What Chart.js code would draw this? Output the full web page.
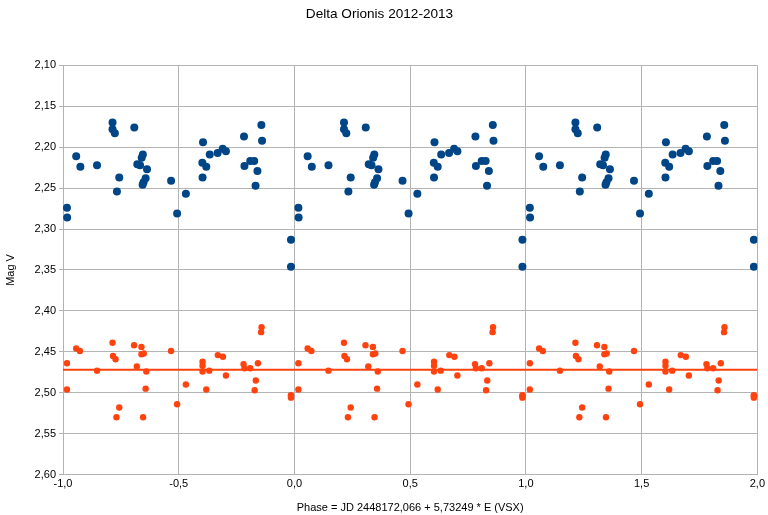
<!DOCTYPE html>
<html>
<head>
<meta charset="utf-8">
<title>Delta Orionis 2012-2013</title>
<script src="https://cdn.jsdelivr.net/npm/chart.js@4.4.1/dist/chart.umd.min.js"></script>
<style>
    body { margin: 0; background: #ffffff; }
    #chartBox { width: 768px; height: 515px; }
</style>
</head>
<body>
<div id="chartBox"><canvas id="myChart" width="768" height="515"></canvas></div>
<script>
var phases = [
    0.017, 0.018, 0.057, 0.075, 0.147, 0.214, 0.214, 0.224, 0.233, 0.243,
    0.308, 0.321, 0.333, 0.340, 0.345, 0.363, 0.357, 0.348, 0.344, 0.467,
    0.493, 0.531, 0.605, 0.602, 0.619, 0.603, 0.634, 0.668, 0.690, 0.704,
    0.782, 0.784, 0.809, 0.826, 0.840, 0.832, 0.857, 0.860, 0.985, 0.985
];

// delta Ori, V magnitude
var magDelta = [
    2.274, 2.286, 2.211, 2.224, 2.222, 2.170, 2.178, 2.183, 2.254, 2.237,
    2.176, 2.221, 2.222, 2.213, 2.209, 2.227, 2.238, 2.243, 2.246, 2.241,
    2.281, 2.257, 2.194, 2.219, 2.224, 2.237, 2.209, 2.207, 2.202, 2.205,
    2.187, 2.223, 2.217, 2.217, 2.229, 2.247, 2.173, 2.192, 2.313, 2.346
];

// check star, V magnitude (same observations)
var phasesCheck = [
    0.017, 0.017, 0.057, 0.073, 0.147, 0.214, 0.216, 0.227, 0.243, 0.231,
    0.307, 0.339, 0.339, 0.349, 0.319, 0.360, 0.357, 0.346, 0.467, 0.493,
    0.531, 0.603, 0.603, 0.603, 0.619, 0.632, 0.669, 0.691, 0.704, 0.780,
    0.784, 0.809, 0.842, 0.833, 0.828, 0.856, 0.858, 0.985, 0.985, 0.985
];
var magCheck = [
    2.464, 2.496, 2.446, 2.449, 2.473, 2.439, 2.455, 2.459, 2.518, 2.530,
    2.442, 2.444, 2.453, 2.452, 2.468, 2.474, 2.495, 2.530, 2.449, 2.514,
    2.490, 2.462, 2.467, 2.474, 2.496, 2.473, 2.454, 2.456, 2.479, 2.465,
    2.470, 2.470, 2.464, 2.485, 2.497, 2.426, 2.420, 2.503, 2.506, 2.504
];

// mean of the check star
var meanCheck = 2.472;

// the plot shows every cycle three times: phase - 1, phase, phase + 1
var cycles = [-1, 0, 1];

var xTicks = [-1.0, -0.5, 0.0, 0.5, 1.0, 1.5, 2.0];
var yMin = 2.10;
var yMax = 2.60;

var fontName = "'Liberation Sans', Arial, sans-serif";

function foldPoints(ph, mag) {
    var pts = [];
    for (var c = 0; c < cycles.length; c++) {
        for (var i = 0; i < ph.length; i++) {
            pts.push({ x: ph[i] + cycles[c], y: mag[i] });
        }
    }
    return pts;
}

function comma(v, d) {
    return Number(v).toFixed(d).replace('.', ',');
}

var ctx = document.getElementById('myChart');
var myChart = new Chart(ctx, {
    type: 'scatter',
    data: {
        datasets: [
            {
                label: 'Mean',
                type: 'line',
                data: [{ x: xTicks[0], y: meanCheck }, { x: xTicks[xTicks.length - 1], y: meanCheck }],
                borderColor: '#ff420e',
                borderWidth: 2,
                pointRadius: 0,
                order: 2
            },
            {
                label: 'delta Ori',
                data: foldPoints(phases, magDelta),
                backgroundColor: '#004586',
                borderWidth: 0,
                pointRadius: 4,
                pointHoverRadius: 4,
                order: 1
            },
            {
                label: 'Check',
                data: foldPoints(phasesCheck, magCheck),
                backgroundColor: '#ff420e',
                borderWidth: 0,
                pointRadius: 3.2,
                pointHoverRadius: 3.2,
                order: 1
            }
        ]
    },
    options: {
        responsive: false,
        animation: false,
        layout: { padding: { left: 0, right: 9, top: 0, bottom: 0 } },
        plugins: {
            legend: { display: false },
            tooltip: { enabled: false },
            title: {
                display: true,
                text: 'Delta Orionis 2012-2013',
                color: '#000000',
                font: { family: fontName, size: 13.6, weight: 'normal' },
                padding: { top: 6, bottom: 43 }
            }
        },
        scales: {
            x: {
                type: 'linear',
                min: xTicks[0],
                max: xTicks[xTicks.length - 1],
                afterBuildTicks: function(scale) {
                    scale.ticks = xTicks.map(function(v) { return { value: v }; });
                },
                ticks: {
                    color: '#000000',
                    font: { family: fontName, size: 11 },
                    padding: 3,
                    maxRotation: 0,
                    callback: function(v) { return comma(v, 1); }
                },
                grid: { color: '#b3b3b3', drawTicks: false },
                border: { color: '#b3b3b3' },
                title: {
                    display: true,
                    text: 'Phase = JD 2448172,066 + 5,73249 * E (VSX)',
                    color: '#000000',
                    font: { family: fontName, size: 11 },
                    padding: { top: 8, bottom: 0 }
                }
            },
            y: {
                type: 'linear',
                reverse: true,
                min: yMin,
                max: yMax,
                ticks: {
                    stepSize: 0.05,
                    color: '#000000',
                    font: { family: fontName, size: 11 },
                    padding: 3,
                    callback: function(v) { return comma(v, 2); }
                },
                grid: { color: '#b3b3b3', tickLength: 4 },
                border: { color: '#b3b3b3' },
                title: {
                    display: true,
                    text: 'Mag V',
                    color: '#000000',
                    font: { family: fontName, size: 11 },
                    padding: 4
                },
                afterFit: function(scale) {
                    scale.width = 63;
                }
            }
        }
    }
});
</script>
</body>
</html>
